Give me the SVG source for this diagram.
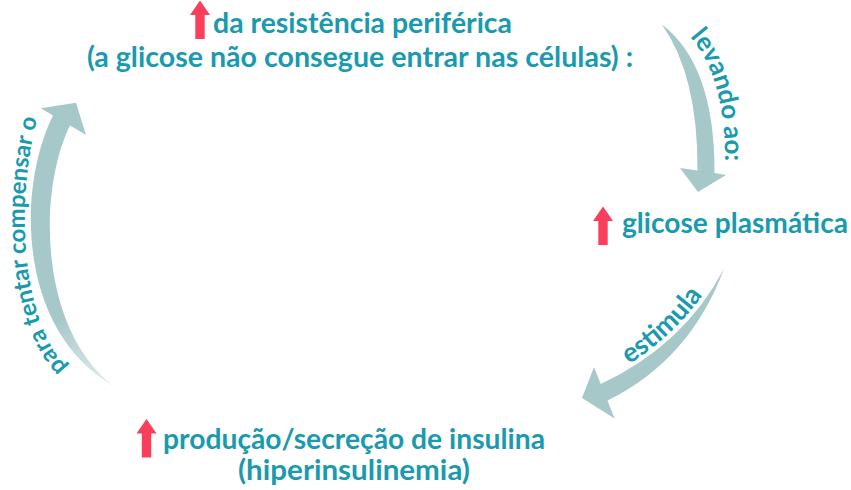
<svg xmlns="http://www.w3.org/2000/svg" xmlns:xlink="http://www.w3.org/1999/xlink" width="851" height="490" viewBox="0 0 851 490">
<style>
.t{font-family:Lato,"Open Sans","Liberation Sans",sans-serif;font-weight:700;fill:#1a9aae}
.main{font-size:28px}
.lbl{font-size:26px}
.conn{fill:#a7c8c9}
.up{fill:#f8405c}
</style>
<defs>
<path id="upArrow" d="M0,0 L10,14.5 L4.7,14.5 L4.7,38.5 L-4.7,38.5 L-4.7,14.5 L-10,14.5 Z"/>
<linearGradient id="tailFade" gradientUnits="userSpaceOnUse" x1="115" y1="387" x2="60" y2="320">
<stop offset="0" stop-color="#a7c8c9" stop-opacity="0.25"/>
<stop offset="1" stop-color="#a7c8c9" stop-opacity="1"/>
</linearGradient>
<path id="pLevando" d="M680,27 Q728,68 725,175"/>
<path id="pEstimula" d="M598,381 Q681,342 723,262"/>
<path id="pPara" d="M68,368 C20,322 12,190 44,96"/>
</defs>
<rect width="851" height="490" fill="#ffffff"/>
<g id="connectors">
<g id="conn-levando">
<path class="conn" d="M661.7,24.3 Q715,65 714.5,173 L726,175 L698,192 L680,168 L697.5,170.5 Q698,75 661.7,24.3 Z"/>
<text class="t lbl"><textPath xlink:href="#pLevando" href="#pLevando" startOffset="14">levando ao:</textPath></text>
</g>
<g id="conn-estimula">
<path class="conn" d="M724,268.7 Q690,360 607.5,400.5 L614.5,418.5 L582,398 L594,367.3 L600.7,384 Q684,345 724,268.7 Z"/>
<text class="t lbl" style="font-size:27px"><textPath xlink:href="#pEstimula" href="#pEstimula" startOffset="49%" text-anchor="middle">estimula</textPath></text>
</g>
<g id="conn-compensar">
<path fill="url(#tailFade)" d="M115,387 C15,330 18,185 53,115.5 L40.7,108.3 L76,102.7 L86,135 L70,125.5 C38,190 38,330 115,387 Z"/>
<text class="t lbl" style="font-size:24px"><textPath xlink:href="#pPara" href="#pPara" startOffset="1">para tentar compensar o</textPath></text>
</g>
</g>
<g id="node-resistencia">
<use href="#upArrow" xlink:href="#upArrow" class="up" transform="translate(200,0.5)"/>
<text class="t main" x="213" y="33" textLength="299" lengthAdjust="spacingAndGlyphs">da resistência periférica</text>
<text class="t main" x="87" y="67" textLength="546" lengthAdjust="spacingAndGlyphs">(a glicose não consegue entrar nas células) :</text>
</g>
<g id="node-glicose">
<use href="#upArrow" xlink:href="#upArrow" class="up" transform="translate(603,206.5)"/>
<text class="t main" x="622" y="233" textLength="226" lengthAdjust="spacingAndGlyphs">glicose plasmática</text>
</g>
<g id="node-insulina">
<use href="#upArrow" xlink:href="#upArrow" class="up" transform="translate(146.5,419)"/>
<text class="t main" x="163" y="449" textLength="382" lengthAdjust="spacingAndGlyphs">produção/secreção de insulina</text>
<text class="t main" x="238" y="480" textLength="232" lengthAdjust="spacingAndGlyphs">(hiperinsulinemia)</text>
</g>
</svg>
